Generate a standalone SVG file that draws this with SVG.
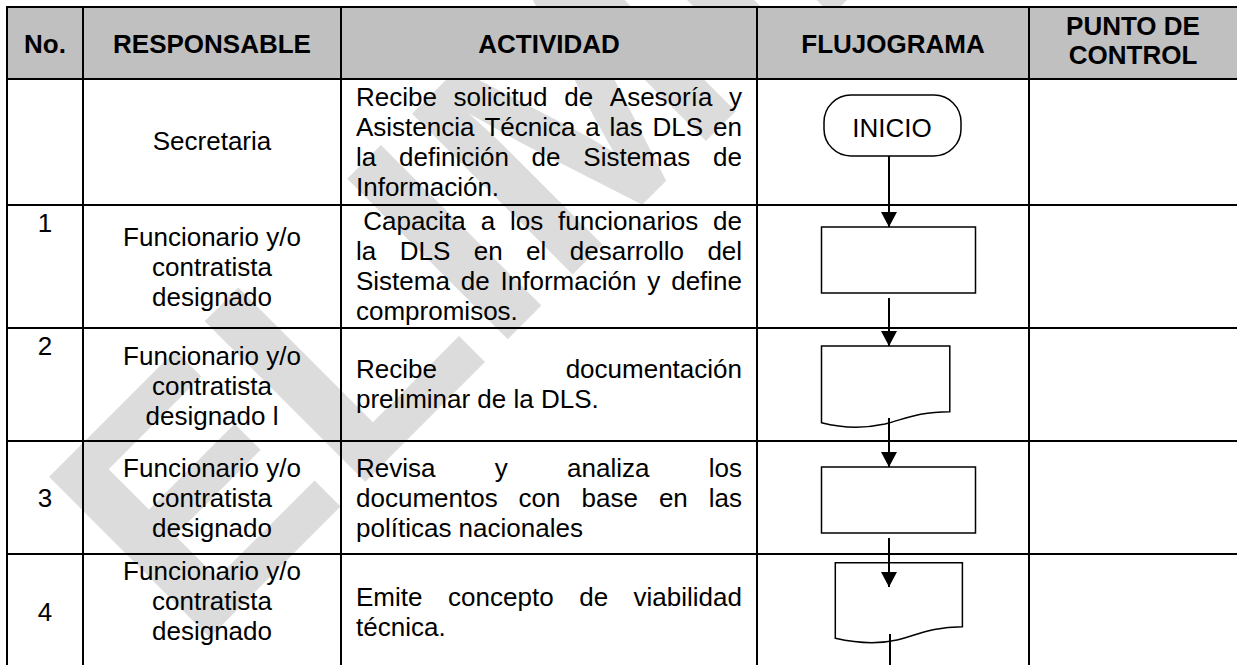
<svg xmlns="http://www.w3.org/2000/svg" width="1237" height="665" viewBox="0 0 1237 665">
<defs>
<style>
.t{font-family:"Liberation Sans",Arial,sans-serif;font-size:26px;fill:#000}
.h{font-family:"Liberation Sans",Arial,sans-serif;font-size:26px;font-weight:bold;fill:#000}
.c{text-anchor:middle}
.e{text-anchor:end}
.grid line{stroke:#000;stroke-width:2}
.shape{fill:#fff;stroke:#000;stroke-width:1.5}
.conn line{stroke:#000;stroke-width:2}
.wm{font-family:"Liberation Sans",Arial,sans-serif;font-weight:bold;font-size:330px;fill:#dcdcdc}
</style>
<marker id="arr" markerUnits="userSpaceOnUse" markerWidth="15" markerHeight="16" viewBox="0 0 15 16" refX="15" refY="8" orient="auto">
<path d="M0,0 L15,8 L0,16 Z" fill="#000"/>
</marker>
</defs>
<rect width="1237" height="665" fill="#fff"/>
<g id="watermark">
<text class="wm" transform="translate(194,653) rotate(-45)">ELIMINADO</text>
</g>
<rect x="7" y="7" width="1232" height="72" fill="#c0c0c0"/>
<g class="grid">
<line x1="6" y1="7" x2="1237" y2="7"/>
<line x1="6" y1="79" x2="1237" y2="79"/>
<line x1="6" y1="205" x2="1237" y2="205"/>
<line x1="6" y1="328" x2="1237" y2="328"/>
<line x1="6" y1="441" x2="1237" y2="441"/>
<line x1="6" y1="554" x2="1237" y2="554"/>
<line x1="7" y1="6" x2="7" y2="665"/>
<line x1="83" y1="6" x2="83" y2="665"/>
<line x1="341" y1="6" x2="341" y2="665"/>
<line x1="757" y1="6" x2="757" y2="665"/>
<line x1="1029" y1="6" x2="1029" y2="665"/>
</g>
<g id="header">
<text class="h c" x="45" y="53">No.</text>
<text class="h c" x="212" y="53">RESPONSABLE</text>
<text class="h c" x="549" y="53">ACTIVIDAD</text>
<text class="h c" x="893" y="53">FLUJOGRAMA</text>
<text class="h c" x="1133" y="35">PUNTO DE</text>
<text class="h c" x="1133" y="64">CONTROL</text>
</g>
<g id="row0">
<text class="t c" x="212" y="150">Secretaria</text>
<text class="t"><tspan x="356" y="106">Recibe</tspan><tspan x="453.6" y="106">solicitud</tspan><tspan x="564.2" y="106">de</tspan><tspan x="609.8" y="106">Asesoría</tspan><tspan x="729.1" y="106">y</tspan></text>
<text class="t"><tspan x="356" y="136">Asistencia</tspan><tspan x="484.4" y="136">Técnica</tspan><tspan x="585.2" y="136">a</tspan><tspan x="609.6" y="136">las</tspan><tspan x="652.6" y="136">DLS</tspan><tspan x="713.1" y="136">en</tspan></text>
<text class="t"><tspan x="356" y="166">la</tspan><tspan x="399" y="166">definición</tspan><tspan x="531.6" y="166">de</tspan><tspan x="583.3" y="166">Sistemas</tspan><tspan x="713" y="166">de</tspan></text>
<text class="t" x="356" y="196">Información.</text>
</g>
<g id="row1">
<text class="t c" x="45" y="232">1</text>
<text class="t c" x="212" y="246">Funcionario y/o</text>
<text class="t c" x="212" y="276">contratista</text>
<text class="t c" x="212" y="306">designado</text>
<text class="t"><tspan x="363.2" y="230">Capacita</tspan><tspan x="480.7" y="230">a</tspan><tspan x="510" y="230">los</tspan><tspan x="558.1" y="230">funcionarios</tspan><tspan x="713.1" y="230">de</tspan></text>
<text class="t"><tspan x="356" y="260">la</tspan><tspan x="399.7" y="260">DLS</tspan><tspan x="473.7" y="260">en</tspan><tspan x="526.1" y="260">el</tspan><tspan x="569.8" y="260">desarrollo</tspan><tspan x="707.4" y="260">del</tspan></text>
<text class="t"><tspan x="356" y="290">Sistema</tspan><tspan x="460.8" y="290">de</tspan><tspan x="500.6" y="290">Información</tspan><tspan x="647.3" y="290">y</tspan><tspan x="671.2" y="290">define</tspan></text>
<text class="t" x="356" y="320">compromisos.</text>
</g>
<g id="row2">
<text class="t c" x="45" y="355">2</text>
<text class="t c" x="212" y="365">Funcionario y/o</text>
<text class="t c" x="212" y="395">contratista</text>
<text class="t c" x="212" y="425">designado l</text>
<text class="t" x="356" y="378">Recibe</text>
<text class="t e" x="742" y="378">documentación</text>
<text class="t" x="356" y="408">preliminar de la DLS.</text>
</g>
<g id="row3">
<text class="t c" x="45" y="507">3</text>
<text class="t c" x="212" y="477">Funcionario y/o</text>
<text class="t c" x="212" y="507">contratista</text>
<text class="t c" x="212" y="537">designado</text>
<text class="t"><tspan x="356" y="477">Revisa</tspan><tspan x="494.8" y="477">y</tspan><tspan x="567.1" y="477">analiza</tspan></text>
<text class="t e" x="742" y="477">los</text>
<text class="t"><tspan x="356" y="507">documentos</tspan><tspan x="518.6" y="507">con</tspan><tspan x="581.5" y="507">base</tspan><tspan x="658.9" y="507">en</tspan><tspan x="708.8" y="507">las</tspan></text>
<text class="t" x="356" y="537">políticas nacionales</text>
</g>
<g id="row4">
<text class="t c" x="45" y="621">4</text>
<text class="t c" x="212" y="580">Funcionario y/o</text>
<text class="t c" x="212" y="610">contratista</text>
<text class="t c" x="212" y="640">designado</text>
<text class="t"><tspan x="356" y="606">Emite</tspan><tspan x="448.1" y="606">concepto</tspan><tspan x="579.2" y="606">de</tspan></text>
<text class="t e" x="742" y="606">viabilidad</text>
<text class="t" x="356" y="636">técnica.</text>
</g>
<g id="inicio">
<rect class="shape" x="824" y="95" width="137" height="61" rx="27" ry="27"/>
<text class="t c" x="892" y="137">INICIO</text>
</g>
<g id="proceso1">
<rect class="shape" x="821.5" y="227" width="154" height="66"/>
</g>
<g id="documento1">
<path class="shape" d="M821.5,346 H949.8 V411.7 C918,411.7 905,419 885,424 C862,429 842,428 821.5,422.7 Z"/>
</g>
<g id="proceso2">
<rect class="shape" x="821.5" y="467" width="154" height="66"/>
</g>
<g id="documento2">
<path class="shape" d="M835.3,562.7 H962.4 V626.7 C932,626.7 917,635 897,640 C875,645 856,643 835.3,638.3 Z"/>
</g>
<g class="conn" id="connectors">
<line x1="889" y1="156" x2="889" y2="227" marker-end="url(#arr)"/>
<line x1="889" y1="298" x2="889" y2="346" marker-end="url(#arr)"/>
<line x1="889" y1="418" x2="889" y2="467" marker-end="url(#arr)"/>
<line x1="889" y1="538" x2="889" y2="587" marker-end="url(#arr)"/>
<line x1="890" y1="634" x2="890" y2="666"/>
</g>
</svg>
